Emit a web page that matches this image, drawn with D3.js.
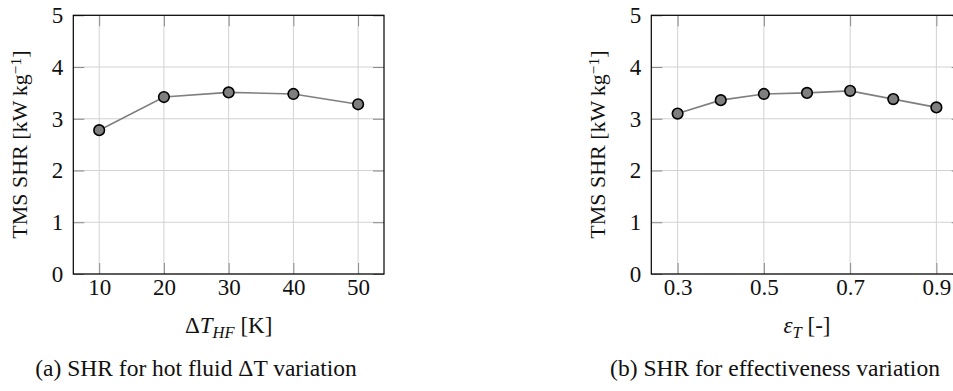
<!DOCTYPE html>
<html>
<head>
<meta charset="utf-8">
<script src="https://cdn.jsdelivr.net/npm/d3@7"></script>
<style>
  body { margin: 0; background: #fff; }
  svg { display: block; }
  svg text { font-family: "Liberation Serif", "Times New Roman", serif; }
</style>
</head>
<body>
<div id="chart"></div>
<script>
// data
var hotDeltaT = [10, 20, 30, 40, 50];
var hotShr = [2.78, 3.42, 3.51, 3.48, 3.28];
var hotTicks = [10, 20, 30, 40, 50];

var effValues = [0.3, 0.4, 0.5, 0.6, 0.7, 0.8, 0.9];
var effShr = [3.10, 3.36, 3.48, 3.50, 3.54, 3.38, 3.22];
var effTicks = [0.3, 0.5, 0.7, 0.9];

var shrTicks = [0, 1, 2, 3, 4, 5];

var W = 953, H = 391;
var FS = 23;
var SERIF = '"Liberation Serif", "Times New Roman", serif';

var svg = d3.select('#chart').append('svg')
    .attr('width', W)
    .attr('height', H);

function drawPanel(p) {
    var x = d3.scaleLinear().domain(p.xDomain).range([p.left, p.right]);
    var y = d3.scaleLinear().domain([0, 5]).range([p.bottom, p.top]);
    var g = svg.append('g');

    // grid
    g.append('g').selectAll('line')
        .data(p.xTicks).enter().append('line')
        .attr('x1', function (d) { return x(d); })
        .attr('x2', function (d) { return x(d); })
        .attr('y1', p.top).attr('y2', p.bottom)
        .attr('stroke', '#d2d2d2').attr('stroke-width', 1);
    g.append('g').selectAll('line')
        .data(shrTicks).enter().append('line')
        .attr('x1', p.left).attr('x2', p.right)
        .attr('y1', function (d) { return y(d); })
        .attr('y2', function (d) { return y(d); })
        .attr('stroke', '#d2d2d2').attr('stroke-width', 1);

    // inward ticks on all sides
    var tk = 11;
    var bottom = g.append('g').attr('transform', 'translate(0,' + p.bottom + ')')
        .call(d3.axisBottom(x).tickValues(p.xTicks).tickSize(-tk).tickPadding(5)
            .tickFormat(p.xFormat));
    var top = g.append('g').attr('transform', 'translate(0,' + p.top + ')')
        .call(d3.axisTop(x).tickValues(p.xTicks).tickSize(-tk).tickFormat(''));
    var left = g.append('g').attr('transform', 'translate(' + p.left + ',0)')
        .call(d3.axisLeft(y).tickValues(shrTicks).tickSize(-tk).tickPadding(10)
            .tickFormat(d3.format('d')));
    var right = g.append('g').attr('transform', 'translate(' + p.right + ',0)')
        .call(d3.axisRight(y).tickValues(shrTicks).tickSize(-tk).tickFormat(''));

    [bottom, top, left, right].forEach(function (a) {
        a.attr('font-family', SERIF).attr('font-size', FS);
        a.select('.domain').remove();
        a.selectAll('.tick line').attr('stroke', '#8a8a8a').attr('stroke-width', 1);
        a.selectAll('.tick text').attr('fill', '#111');
    });

    // frame
    g.append('rect')
        .attr('x', p.left).attr('y', p.top)
        .attr('width', p.right - p.left).attr('height', p.bottom - p.top)
        .attr('fill', 'none').attr('stroke', '#000').attr('stroke-width', 1.2);

    // series
    var pts = p.xs.map(function (v, i) { return [v, p.ys[i]]; });
    var line = d3.line()
        .x(function (d) { return x(d[0]); })
        .y(function (d) { return y(d[1]); });
    g.append('path')
        .datum(pts)
        .attr('d', line)
        .attr('fill', 'none')
        .attr('stroke', '#7f7f7f')
        .attr('stroke-width', 1.6);
    g.selectAll('circle')
        .data(pts).enter().append('circle')
        .attr('cx', function (d) { return x(d[0]); })
        .attr('cy', function (d) { return y(d[1]); })
        .attr('r', 5.3)
        .attr('fill', '#7f7f7f')
        .attr('stroke', '#000')
        .attr('stroke-width', 1.6);

    // y label
    var cy = (p.top + p.bottom) / 2;
    var yl = g.append('text')
        .attr('transform', 'translate(' + (p.left - 46) + ',' + cy + ') rotate(-90)')
        .attr('text-anchor', 'middle')
        .attr('font-size', 22).attr('fill', '#111');
    yl.append('tspan').text('TMS SHR [kW\u2009kg');
    yl.append('tspan').attr('dy', '-0.42em').attr('font-size', '0.7em').text('\u22121');
    yl.append('tspan').attr('dy', '0.3em').text(']');

    // x label
    var xl = g.append('text')
        .attr('x', (p.left + p.right) / 2)
        .attr('y', p.bottom + 59)
        .attr('text-anchor', 'middle')
        .attr('font-size', FS).attr('fill', '#111');
    p.xLabel(xl);

    // caption
    g.append('text')
        .attr('x', p.captionX)
        .attr('y', 376)
        .attr('text-anchor', 'middle')
        .attr('font-size', 23.5).attr('fill', '#111')
        .text(p.caption);
}

drawPanel({
    left: 73.3, right: 384, top: 15.3, bottom: 274,
    xDomain: [6, 54],
    xTicks: hotTicks,
    xFormat: d3.format('d'),
    xs: hotDeltaT, ys: hotShr,
    xLabel: function (t) {
        t.append('tspan').text('\u0394');
        t.append('tspan').attr('font-style', 'italic').text('T');
        t.append('tspan').attr('font-style', 'italic').attr('font-size', '0.72em')
            .attr('dy', '0.28em').text('HF');
        t.append('tspan').attr('dy', '-0.2em').text(' [K]');
    },
    captionX: 196,
    caption: '(a) SHR for hot fluid \u0394T variation'
});

drawPanel({
    left: 651.3, right: 962.7, top: 15.3, bottom: 274,
    xDomain: [0.239, 0.961],
    xTicks: effTicks,
    xFormat: d3.format('.1f'),
    xs: effValues, ys: effShr,
    xLabel: function (t) {
        t.append('tspan').attr('font-style', 'italic').text('\u03b5');
        t.append('tspan').attr('font-style', 'italic').attr('font-size', '0.72em')
            .attr('dy', '0.28em').text('T');
        t.append('tspan').attr('dy', '-0.2em').text(' [-]');
    },
    captionX: 775,
    caption: '(b) SHR for effectiveness variation'
});
</script>
</body>
</html>
